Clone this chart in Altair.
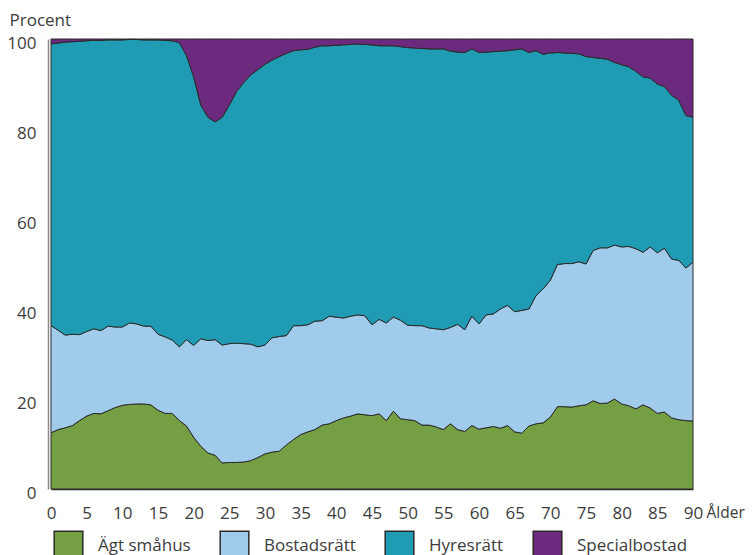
import altair as alt
import pandas as pd

ages = list(range(91))

agt_smahus = [12.5,13.2,13.6,14.1,15.2,16.2,16.8,16.7,17.4,18.1,
              18.6,18.8,18.9,18.9,18.7,17.5,16.8,16.8,15.2,14.0,
              11.5,9.5,8.0,7.5,5.8,5.9,5.9,6.0,6.3,7.0,
              7.8,8.2,8.4,9.8,11.0,12.1,12.7,13.2,14.2,14.5,
              15.2,15.8,16.2,16.7,16.5,16.3,16.7,15.2,17.3,15.6,
              15.4,15.2,14.2,14.2,13.8,13.2,14.5,13.2,12.8,14.1,
              13.3,13.6,13.9,13.5,14.1,12.7,12.4,14.0,14.5,14.7,
              16.0,18.3,18.3,18.2,18.5,18.7,19.6,19.0,19.1,20.0,
              18.9,18.5,17.8,18.7,18.0,16.8,17.1,15.8,15.4,15.2,15.1]

bostadsratt = [23.8,22.1,20.6,20.3,19.1,18.8,18.8,18.5,18.8,17.9,
               17.4,18.1,17.8,17.3,17.5,16.9,17.0,16.3,16.4,19.2,
               20.4,23.9,25.0,25.7,26.2,26.4,26.5,26.3,25.9,24.6,
               24.2,25.4,25.5,24.3,25.3,24.2,23.8,24.1,23.2,23.9,
               23.0,22.2,22.2,22.0,22.0,20.2,21.0,21.7,20.9,21.9,
               21.0,21.1,22.1,21.6,21.8,22.2,21.4,23.4,22.6,24.3,
               23.4,25.1,25.0,26.5,26.7,26.7,27.3,26.0,28.5,29.8,
               30.4,31.6,31.8,31.9,32.0,31.3,33.4,34.6,34.5,34.2,
               34.9,35.4,35.6,33.9,35.8,35.7,36.4,35.3,35.4,33.9,35.3]

hyresratt = [62.6,63.8,65.1,65.0,65.2,64.6,64.1,64.5,63.6,63.8,
             63.8,63.0,63.2,63.6,63.6,65.4,65.9,66.5,67.6,63.1,
             59.7,51.9,49.6,48.4,50.6,53.0,55.9,58.0,59.8,61.6,
             62.4,61.7,62.2,62.7,61.1,61.3,61.2,60.9,61.1,60.1,
             60.4,60.7,60.4,60.2,60.3,62.2,60.8,61.6,60.3,60.8,
             61.7,61.7,61.6,62.0,62.2,62.4,61.4,60.5,61.6,59.4,
             60.3,58.4,58.3,57.3,56.6,58.2,58.1,57.0,54.4,52.1,
             50.5,47.1,46.8,46.7,46.2,46.1,42.9,42.1,41.9,40.6,
             40.5,39.9,39.4,39.0,37.5,37.5,35.9,36.4,35.6,33.9,32.2]

specialbostad = [1.1,0.9,0.7,0.6,0.5,0.4,0.3,0.3,0.2,0.2,
                 0.2,0.1,0.1,0.2,0.2,0.2,0.3,0.4,0.8,3.7,
                 8.4,14.7,17.4,18.4,17.4,14.7,11.7,9.7,8.0,6.8,
                 5.6,4.7,3.9,3.2,2.6,2.4,2.3,1.8,1.5,1.5,
                 1.4,1.3,1.2,1.1,1.2,1.3,1.5,1.5,1.5,1.7,
                 1.9,2.0,2.1,2.2,2.2,2.2,2.7,2.9,3.0,2.2,
                 3.0,2.9,2.8,2.7,2.6,2.4,2.2,3.0,2.6,3.4,
                 3.1,3.0,3.1,3.2,3.3,3.9,4.1,4.3,4.5,5.2,
                 5.7,6.2,7.2,8.4,8.7,10.0,10.6,12.5,13.6,17.0,17.4]

categories = ["Ägt småhus", "Bostadsrätt", "Hyresrätt", "Specialbostad"]
colors = ["#759f43", "#a1cbeb", "#1f9cb4", "#6b2a7d"]
x_ticks = list(range(0, 91, 5))
y_ticks = [0, 20, 40, 60, 80, 100]

series = [agt_smahus, bostadsratt, hyresratt, specialbostad]
rows = []
for i, (name, vals) in enumerate(zip(categories, series)):
    for a, v in zip(ages, vals):
        rows.append({"age": a, "value": v, "typ": name, "idx": i})
df = pd.DataFrame(rows)

FONT = "Open Sans"
TXT = "#3c3c3c"
FS = 17

chart = alt.Chart(df).mark_area(
    stroke="#2a2a2a", strokeWidth=1, interpolate="linear", opacity=1
).encode(
    x=alt.X("age:Q",
            scale=alt.Scale(domain=[0, 90], nice=False, zero=False),
            axis=alt.Axis(values=x_ticks, ticks=False, grid=False,
                          domainColor="#2a2a2a", domainWidth=1.5,
                          labelFont=FONT, labelFontSize=FS, labelColor=TXT,
                          labelPadding=16, labelFlush=False,
                          title="Ålder", titleFont=FONT, titleFontSize=15.5,
                          titleFontWeight="normal", titleColor=TXT,
                          titleAlign="left", titleBaseline="top",
                          titleX=655, titleY=16)),
    y=alt.Y("value:Q", stack="zero",
            scale=alt.Scale(domain=[0, 100], nice=False),
            axis=alt.Axis(values=y_ticks, ticks=False, grid=False,
                          domainColor="#8a8a8a", domainWidth=1.5, offset=3,
                          labelFont=FONT, labelFontSize=FS, labelColor=TXT,
                          labelPadding=12, labelOffset=4,
                          title="Procent", titleFont=FONT, titleFontSize=FS,
                          titleFontWeight="normal", titleColor=TXT,
                          titleAngle=0, titleAlign="left", titleBaseline="middle",
                          titleX=-39, titleY=-19)),
    color=alt.Color("typ:N",
                    scale=alt.Scale(domain=categories, range=colors),
                    legend=alt.Legend(title=None, orient="none", direction="horizontal",
                                      legendX=2, legendY=491,
                                      symbolType="square", symbolSize=820,
                                      symbolStrokeColor="#2a2a2a", symbolStrokeWidth=1.5,
                                      symbolOpacity=1,
                                      labelFont=FONT, labelFontSize=FS, labelColor=TXT,
                                      labelOffset=14, columnPadding=26, padding=0)),
    order=alt.Order("idx:Q", sort="ascending"),
).properties(
    width=642, height=450,
    autosize=alt.AutoSizeParams(type="none"),
    padding={"left": 43, "top": 31, "right": 52, "bottom": 66},
).configure_view(stroke=None)

chart.save("out.html", embed_options={"renderer": "svg", "actions": False})
